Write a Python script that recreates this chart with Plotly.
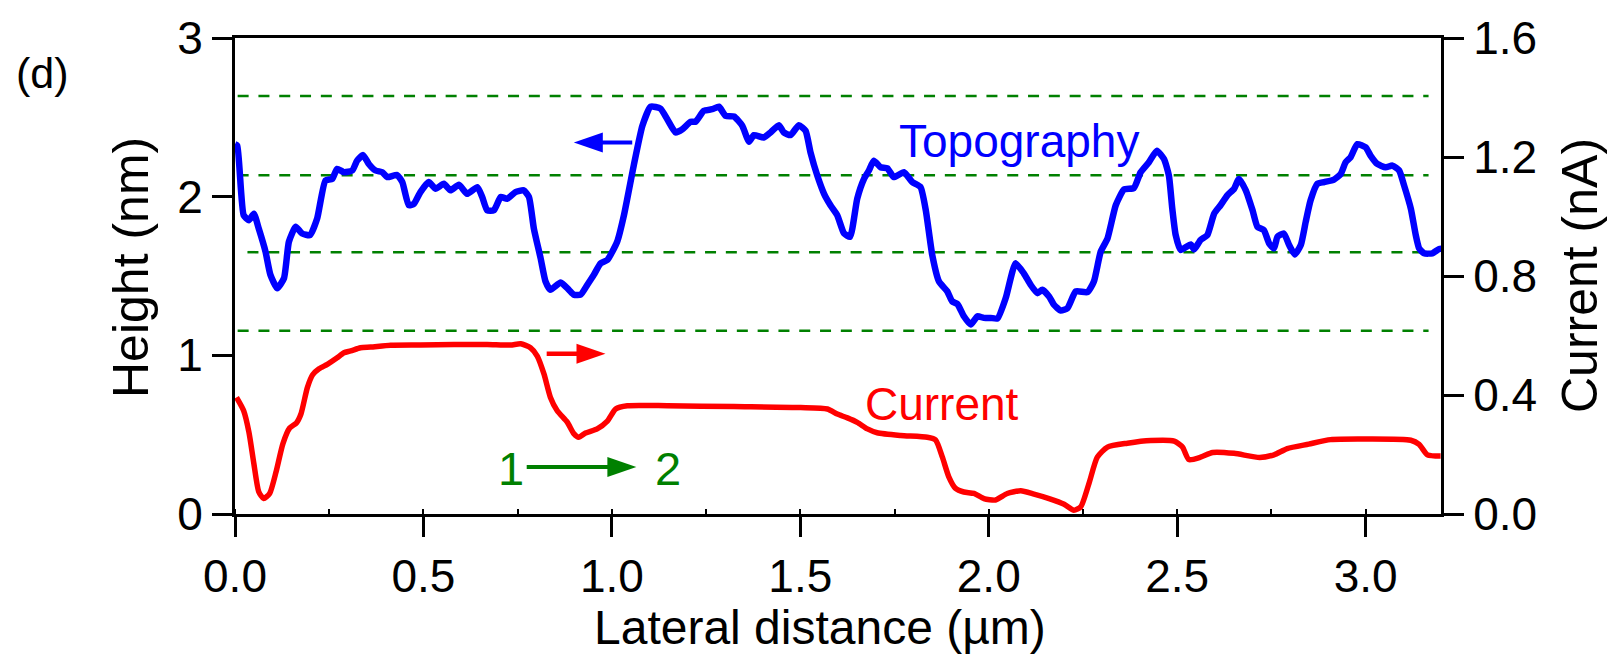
import plotly.graph_objects as go

# ---------------- data ----------------
topo_x = [0.0, 0.006, 0.023, 0.037, 0.050, 0.063, 0.081, 0.094, 0.112, 0.130, 0.143, 0.161, 0.178, 0.199,
          0.218, 0.240, 0.258, 0.271, 0.289, 0.311, 0.324, 0.340, 0.355, 0.373, 0.391, 0.404, 0.430,
          0.444, 0.461, 0.475, 0.492, 0.514, 0.532, 0.554, 0.572, 0.594, 0.616, 0.643, 0.656, 0.669,
          0.687, 0.705, 0.722, 0.744, 0.766, 0.780, 0.793, 0.811, 0.824, 0.837, 0.864, 0.886, 0.899,
          0.917, 0.935, 0.952, 0.970, 0.988, 1.014, 1.032, 1.058, 1.081, 1.103, 1.129, 1.147, 1.169,
          1.187, 1.209, 1.222, 1.244, 1.266, 1.284, 1.302, 1.324, 1.346, 1.364, 1.377, 1.403, 1.421,
          1.443, 1.456, 1.474, 1.496, 1.514, 1.527, 1.545, 1.563, 1.580, 1.598, 1.616, 1.632, 1.651,
          1.669, 1.682, 1.695, 1.713, 1.731, 1.748, 1.775, 1.797, 1.819, 1.833, 1.850, 1.868, 1.890,
          1.903, 1.917, 1.934, 1.952, 1.970, 1.987, 2.005, 2.023, 2.045, 2.071, 2.093, 2.111, 2.129,
          2.142, 2.160, 2.173, 2.191, 2.209, 2.231, 2.262, 2.279, 2.297, 2.315, 2.337, 2.359, 2.385,
          2.403, 2.425, 2.446, 2.465, 2.478, 2.487, 2.496, 2.509, 2.536, 2.545, 2.562, 2.580, 2.598,
          2.615, 2.633, 2.651, 2.664, 2.682, 2.700, 2.713, 2.730, 2.744, 2.757, 2.766, 2.783, 2.797,
          2.812, 2.828, 2.841, 2.854, 2.872, 2.890, 2.916, 2.934, 2.947, 2.960, 2.978, 3.000, 3.013,
          3.031, 3.053, 3.071, 3.089, 3.102, 3.120, 3.133, 3.142, 3.155, 3.177, 3.195, 3.202]
topo_nm = [2.33, 2.321, 1.883, 1.852, 1.893, 1.799, 1.653, 1.507, 1.423, 1.486, 1.716, 1.810, 1.768, 1.758,
           1.862, 2.102, 2.112, 2.175, 2.154, 2.165, 2.227, 2.262, 2.206, 2.165, 2.154, 2.123, 2.137,
           2.092, 1.946, 1.956, 2.029, 2.092, 2.050, 2.081, 2.040, 2.075, 2.018, 2.060, 1.998, 1.914,
           1.914, 1.998, 1.987, 2.029, 2.040, 1.998, 1.799, 1.611, 1.465, 1.413, 1.459, 1.413, 1.382,
           1.382, 1.445, 1.507, 1.580, 1.601, 1.716, 1.883, 2.196, 2.447, 2.567, 2.555, 2.488, 2.405,
           2.425, 2.472, 2.472, 2.541, 2.551, 2.567, 2.509, 2.505, 2.447, 2.346, 2.388, 2.373, 2.405,
           2.450, 2.405, 2.388, 2.450, 2.415, 2.279, 2.133, 2.018, 1.946, 1.883, 1.768, 1.747, 1.987,
           2.112, 2.165, 2.227, 2.185, 2.179, 2.123, 2.154, 2.092, 2.060, 1.914, 1.633, 1.465, 1.403,
           1.340, 1.323, 1.246, 1.194, 1.246, 1.236, 1.236, 1.232, 1.361, 1.580, 1.517, 1.445, 1.392,
           1.413, 1.371, 1.319, 1.282, 1.298, 1.403, 1.398, 1.465, 1.653, 1.736, 1.946, 2.046, 2.054,
           2.154, 2.217, 2.290, 2.237, 2.133, 1.924, 1.758, 1.664, 1.699, 1.668, 1.727, 1.758, 1.893,
           1.946, 2.008, 2.050, 2.112, 2.040, 1.914, 1.810, 1.789, 1.705, 1.674, 1.747, 1.768, 1.695,
           1.636, 1.695, 1.841, 1.977, 2.081, 2.092, 2.108, 2.143, 2.217, 2.248, 2.331, 2.311, 2.259,
           2.206, 2.185, 2.196, 2.165, 2.071, 1.924, 1.758, 1.674, 1.643, 1.643, 1.670, 1.672]

current_x = [0.004, 0.023, 0.037, 0.050, 0.063, 0.076, 0.092, 0.109, 0.127, 0.145, 0.163, 0.175, 0.192,
             0.206, 0.223, 0.245, 0.271, 0.289, 0.307, 0.333, 0.360, 0.413, 0.492, 0.581, 0.669, 0.731,
             0.758, 0.784, 0.802, 0.820, 0.837, 0.855, 0.882, 0.899, 0.912, 0.930, 0.961, 0.988, 1.010,
             1.041, 1.147, 1.324, 1.501, 1.572, 1.598, 1.625, 1.651, 1.678, 1.704, 1.766, 1.837, 1.859,
             1.877, 1.894, 1.912, 1.934, 1.961, 1.987, 2.018, 2.049, 2.085, 2.120, 2.160, 2.200, 2.226,
             2.244, 2.266, 2.288, 2.315, 2.368, 2.430, 2.492, 2.514, 2.531, 2.562, 2.594, 2.651, 2.719,
             2.757, 2.792, 2.849, 2.907, 3.005, 3.120, 3.142, 3.164, 3.199]
current_nA = [0.392, 0.347, 0.275, 0.170, 0.075, 0.052, 0.069, 0.142, 0.236, 0.289, 0.306, 0.336, 0.425,
              0.468, 0.488, 0.503, 0.525, 0.542, 0.548, 0.559, 0.561, 0.567, 0.568, 0.570, 0.570, 0.568,
              0.572, 0.559, 0.531, 0.470, 0.392, 0.347, 0.308, 0.270, 0.258, 0.272, 0.286, 0.312, 0.353,
              0.364, 0.364, 0.361, 0.358, 0.353, 0.336, 0.323, 0.308, 0.286, 0.273, 0.264, 0.258, 0.249,
              0.191, 0.125, 0.086, 0.074, 0.069, 0.052, 0.047, 0.069, 0.078, 0.067, 0.052, 0.033, 0.013,
              0.024, 0.103, 0.191, 0.225, 0.238, 0.247, 0.245, 0.225, 0.183, 0.191, 0.207, 0.204, 0.190,
              0.199, 0.220, 0.235, 0.250, 0.252, 0.248, 0.234, 0.199, 0.195]

dashed_levels_nm = [2.635, 2.135, 1.65, 1.155]
dashed_starts = [0.007, 0.007, 0.033, 0.007]
dashed_end = 3.167

x_ticks = [0.0, 0.5, 1.0, 1.5, 2.0, 2.5, 3.0]
left_ticks = [0, 1, 2, 3]
right_ticks = [0.0, 0.4, 0.8, 1.2, 1.6]

# arrows: (tail_x, tip_x, y_nm, color, width)
arrows = [
    (1.054, 0.899, 2.342, "#0000ff", 4),
    (0.827, 0.983, 1.010, "#ff0000", 4.5),
    (0.774, 1.065, 0.296, "#008000", 4),
]

FONT = "Liberation Sans, Arial, Helvetica, sans-serif"
BLUE, RED, GREEN = "#0000ff", "#ff0000", "#008000"

fig = go.Figure()
fig.add_trace(go.Scatter(x=topo_x, y=topo_nm, mode="lines", yaxis="y",
                         line=dict(color=BLUE, width=6.5, shape="spline", smoothing=0.5),
                         showlegend=False, hoverinfo="skip"))
fig.add_trace(go.Scatter(x=current_x, y=current_nA, mode="lines", yaxis="y2",
                         line=dict(color=RED, width=5.5, shape="spline", smoothing=0.6),
                         showlegend=False, hoverinfo="skip"))

shapes = []
for lvl, x0 in zip(dashed_levels_nm, dashed_starts):
    shapes.append(dict(type="line", xref="x", yref="y", x0=x0, x1=dashed_end, y0=lvl, y1=lvl,
                       line=dict(color=GREEN, width=2.5, dash="11px,9.8px"), layer="below"))

for tail, tip, yv, col, w in arrows:
    direction = 1 if tip > tail else -1
    shapes.append(dict(type="line", xref="x", yref="y", x0=tail, x1=tip - direction * 0.04,
                       y0=yv, y1=yv, line=dict(color=col, width=w)))
    L = 29 * direction
    shapes.append(dict(type="path", xref="x", yref="y", xsizemode="pixel", ysizemode="pixel",
                       xanchor=tip, yanchor=yv,
                       path=f"M0,0 L{-L},10 L{-L},-10 Z",
                       fillcolor=col, line=dict(color=col, width=0)))

annotations = [
    dict(text="(d)", xref="paper", yref="paper", x=-0.160, y=0.927, showarrow=False,
         font=dict(size=43, color="black", family=FONT), xanchor="center", yanchor="middle"),
    dict(text="Height (nm)", xref="paper", yref="paper", x=0, y=0.5, xshift=-104, yshift=8,
         textangle=-90, showarrow=False, font=dict(size=50, color="black", family=FONT),
         xanchor="center", yanchor="middle"),
    dict(text="Current (nA)", xref="paper", yref="paper", x=1, y=0.5, xshift=139, yshift=0,
         textangle=-90, showarrow=False, font=dict(size=50, color="black", family=FONT),
         xanchor="center", yanchor="middle"),
    dict(text="Lateral distance (\u00b5m)", xref="paper", yref="paper", x=0.5, y=0, xshift=-18,
         yshift=-113, showarrow=False, font=dict(size=48, color="black", family=FONT),
         xanchor="center", yanchor="middle"),
    dict(text="Topography", xref="x", yref="y", x=2.079, y=2.348, showarrow=False,
         font=dict(size=46, color=BLUE, family=FONT), xanchor="center", yanchor="middle"),
    dict(text="Current", xref="x", yref="y", x=1.876, y=0.695, showarrow=False,
         font=dict(size=46, color=RED, family=FONT), xanchor="center", yanchor="middle"),
    dict(text="1", xref="x", yref="y", x=0.731, y=0.288, showarrow=False,
         font=dict(size=47, color=GREEN, family=FONT), xanchor="center", yanchor="middle"),
    dict(text="2", xref="x", yref="y", x=1.150, y=0.288, showarrow=False,
         font=dict(size=47, color=GREEN, family=FONT), xanchor="center", yanchor="middle"),
]

tickfont = dict(size=46, color="black", family=FONT)
fig.update_layout(
    width=1610, height=655,
    margin=dict(l=235, r=169, t=35, b=141, pad=0),
    paper_bgcolor="white", plot_bgcolor="white",
    showlegend=False,
    shapes=shapes, annotations=annotations,
    xaxis=dict(range=[0, 3.2], tickvals=x_ticks, ticktext=[f"{v:.1f}" for v in x_ticks],
               ticks="outside", ticklen=20, tickwidth=3, tickcolor="black",
               showline=True, linewidth=3, linecolor="black", mirror=True,
               showgrid=False, zeroline=False, tickfont=tickfont,
               minor=dict(dtick=0.25, tick0=0, ticks="inside", ticklen=5, tickwidth=2,
                          tickcolor="black", showgrid=False)),
    yaxis=dict(range=[0, 3], tickvals=left_ticks, ticktext=[str(v) for v in left_ticks],
               ticks="outside", ticklen=20, tickwidth=3, tickcolor="black",
               showline=True, linewidth=3, linecolor="black",
               showgrid=False, zeroline=False, tickfont=tickfont),
    yaxis2=dict(range=[0, 1.6], tickvals=right_ticks, ticktext=[f"{v:.1f}" for v in right_ticks],
                overlaying="y", side="right",
                ticks="outside", ticklen=20, tickwidth=3, tickcolor="black",
                showline=True, linewidth=3, linecolor="black",
                showgrid=False, zeroline=False, tickfont=tickfont),
)

fig.write_html("out.html")
